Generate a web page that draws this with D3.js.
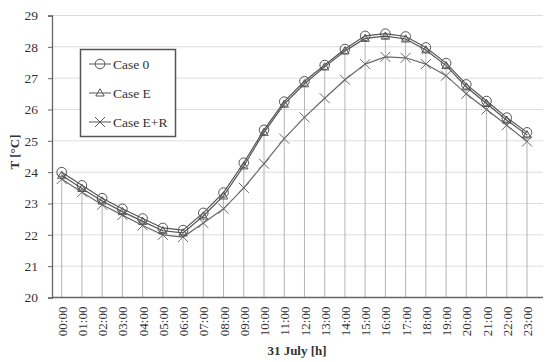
<!DOCTYPE html>
<html>
<head>
<meta charset="utf-8">
<script src="https://cdn.jsdelivr.net/npm/d3@7"></script>
<style>
  body { margin: 0; background: #fff; }
  svg text { font-family: "Liberation Serif", "DejaVu Serif", serif; fill: #333; }
</style>
</head>
<body>
<div id="chart"></div>
<script>
// Horas del día
const hours = ['00:00','01:00','02:00','03:00','04:00','05:00','06:00','07:00','08:00','09:00','10:00','11:00',
  '12:00','13:00','14:00','15:00','16:00','17:00','18:00','19:00','20:00','21:00','22:00','23:00'];

// Temperaturas [°C]
const case0 = [24.0, 23.58, 23.17, 22.83, 22.52, 22.22, 22.15, 22.7, 23.35, 24.3, 25.35, 26.25,
  26.9, 27.42, 27.93, 28.35, 28.42, 28.33, 27.98, 27.48, 26.8, 26.27, 25.74, 25.27];
const caseE = [23.9, 23.48, 23.08, 22.74, 22.43, 22.13, 22.06, 22.6, 23.24, 24.2, 25.27, 26.17,
  26.82, 27.36, 27.87, 28.27, 28.34, 28.25, 27.9, 27.4, 26.72, 26.19, 25.66, 25.19];
const caseER = [23.78, 23.36, 22.96, 22.63, 22.3, 22.0, 21.93, 22.38, 22.83, 23.5, 24.27, 25.07,
  25.75, 26.36, 26.95, 27.45, 27.68, 27.65, 27.45, 27.08, 26.5, 26.0, 25.5, 24.98];

const yTicks = [20, 21, 22, 23, 24, 25, 26, 27, 28, 29];
const seriesNames = ['Case 0', 'Case E', 'Case E+R'];

function drawChart() {
  const width = 550, height = 362;
  const left = 52, right = 543, top = 15.5, bottom = 297.5;

  const svg = d3.select('#chart').append('svg')
    .attr('width', width)
    .attr('height', height);

  const x = d3.scalePoint().domain(hours).range([61.7, 527]);
  const y = d3.scaleLinear().domain([20, 29]).range([bottom, top]);

  // Rejilla horizontal
  svg.append('g')
    .selectAll('line')
    .data(yTicks.slice(1))
    .enter()
    .append('line')
    .attr('x1', left).attr('x2', right)
    .attr('y1', d => y(d)).attr('y2', d => y(d))
    .attr('stroke', '#dcdcdc')
    .attr('stroke-width', 1);

  // Líneas verticales hasta el punto más alto
  svg.append('g')
    .selectAll('line')
    .data(hours)
    .enter()
    .append('line')
    .attr('x1', d => x(d)).attr('x2', d => x(d))
    .attr('y1', (d, i) => y(Math.max(case0[i], caseE[i], caseER[i])))
    .attr('y2', bottom)
    .attr('stroke', '#b4b4b4')
    .attr('stroke-width', 1);

  // Eje Y
  const yAxis = svg.append('g')
    .attr('transform', `translate(${left},0)`)
    .call(d3.axisLeft(y).tickValues(yTicks).tickSize(4).tickPadding(10));
  yAxis.select('.domain').attr('stroke', '#666').attr('stroke-width', 1.3);
  yAxis.selectAll('.tick line').attr('stroke', '#666');
  yAxis.selectAll('text')
    .style('font-size', '13.5px')
    .style('font-family', '"Liberation Serif", serif')
    .attr('fill', '#333');

  // Eje X
  const xAxis = svg.append('g')
    .attr('transform', `translate(0,${bottom})`)
    .call(d3.axisBottom(x).tickSize(0).tickPadding(0));
  xAxis.select('.domain').remove();
  xAxis.append('line')
    .attr('x1', left).attr('x2', right)
    .attr('y1', 0).attr('y2', 0)
    .attr('stroke', '#666').attr('stroke-width', 1.3);
  xAxis.selectAll('text')
    .attr('transform', 'rotate(-90)')
    .attr('text-anchor', 'end')
    .attr('x', -9)
    .attr('y', 0)
    .attr('dy', '0.35em')
    .style('font-size', '13px')
    .style('font-family', '"Liberation Serif", serif')
    .attr('fill', '#333');

  // Títulos de ejes
  svg.append('text')
    .attr('x', 297).attr('y', 355)
    .attr('text-anchor', 'middle')
    .style('font-size', '13px')
    .style('font-weight', 'bold')
    .text('31 July [h]');

  svg.append('text')
    .attr('transform', 'translate(19,152) rotate(-90)')
    .attr('text-anchor', 'middle')
    .style('font-size', '13px')
    .style('font-weight', 'bold')
    .text('T [°C]');

  const series = [
    { name: seriesNames[2], values: caseER, color: '#6a6a6a', marker: 'x' },
    { name: seriesNames[1], values: caseE, color: '#555', marker: 'triangle' },
    { name: seriesNames[0], values: case0, color: '#555', marker: 'circle' }
  ];

  const line = d3.line()
    .x((d, i) => x(hours[i]))
    .y(d => y(d));

  function drawMarker(g, type, color) {
    if (type === 'circle') {
      g.append('circle').attr('r', 4.8)
        .attr('fill', 'none').attr('stroke', color).attr('stroke-width', 1);
    } else if (type === 'triangle') {
      g.append('path').attr('d', 'M0,-4.2L4.2,3L-4.2,3Z')
        .attr('fill', 'none').attr('stroke', color).attr('stroke-width', 1);
    } else {
      g.append('path').attr('d', 'M-5,-5L5,5M-5,5L5,-5')
        .attr('fill', 'none').attr('stroke', color).attr('stroke-width', 1);
    }
  }

  series.forEach(s => {
    svg.append('path')
      .datum(s.values)
      .attr('d', line)
      .attr('fill', 'none')
      .attr('stroke', s.color)
      .attr('stroke-width', 1.2);

    svg.append('g')
      .selectAll('g')
      .data(s.values)
      .enter()
      .append('g')
      .attr('transform', (d, i) => `translate(${x(hours[i])},${y(d)})`)
      .each(function() { drawMarker(d3.select(this), s.marker, s.color); });
  });

  // Leyenda
  const legend = svg.append('g');
  legend.append('rect')
    .attr('x', 80.5).attr('y', 49.5)
    .attr('width', 95).attr('height', 87)
    .attr('fill', '#fff')
    .attr('stroke', '#555')
    .attr('stroke-width', 1.5);

  const legendItems = [
    { name: seriesNames[0], marker: 'circle' },
    { name: seriesNames[1], marker: 'triangle' },
    { name: seriesNames[2], marker: 'x' }
  ];
  legendItems.forEach((item, i) => {
    const ly = 64 + i * 29;
    legend.append('line')
      .attr('x1', 89).attr('x2', 111)
      .attr('y1', ly).attr('y2', ly)
      .attr('stroke', '#555').attr('stroke-width', 1);
    const m = legend.append('g').attr('transform', `translate(100,${ly})`);
    drawMarker(m, item.marker, '#555');
    legend.append('text')
      .attr('x', 113).attr('y', ly)
      .attr('dy', '0.35em')
      .style('font-size', '13.5px')
      .text(item.name);
  });
}

drawChart();
</script>
</body>
</html>
